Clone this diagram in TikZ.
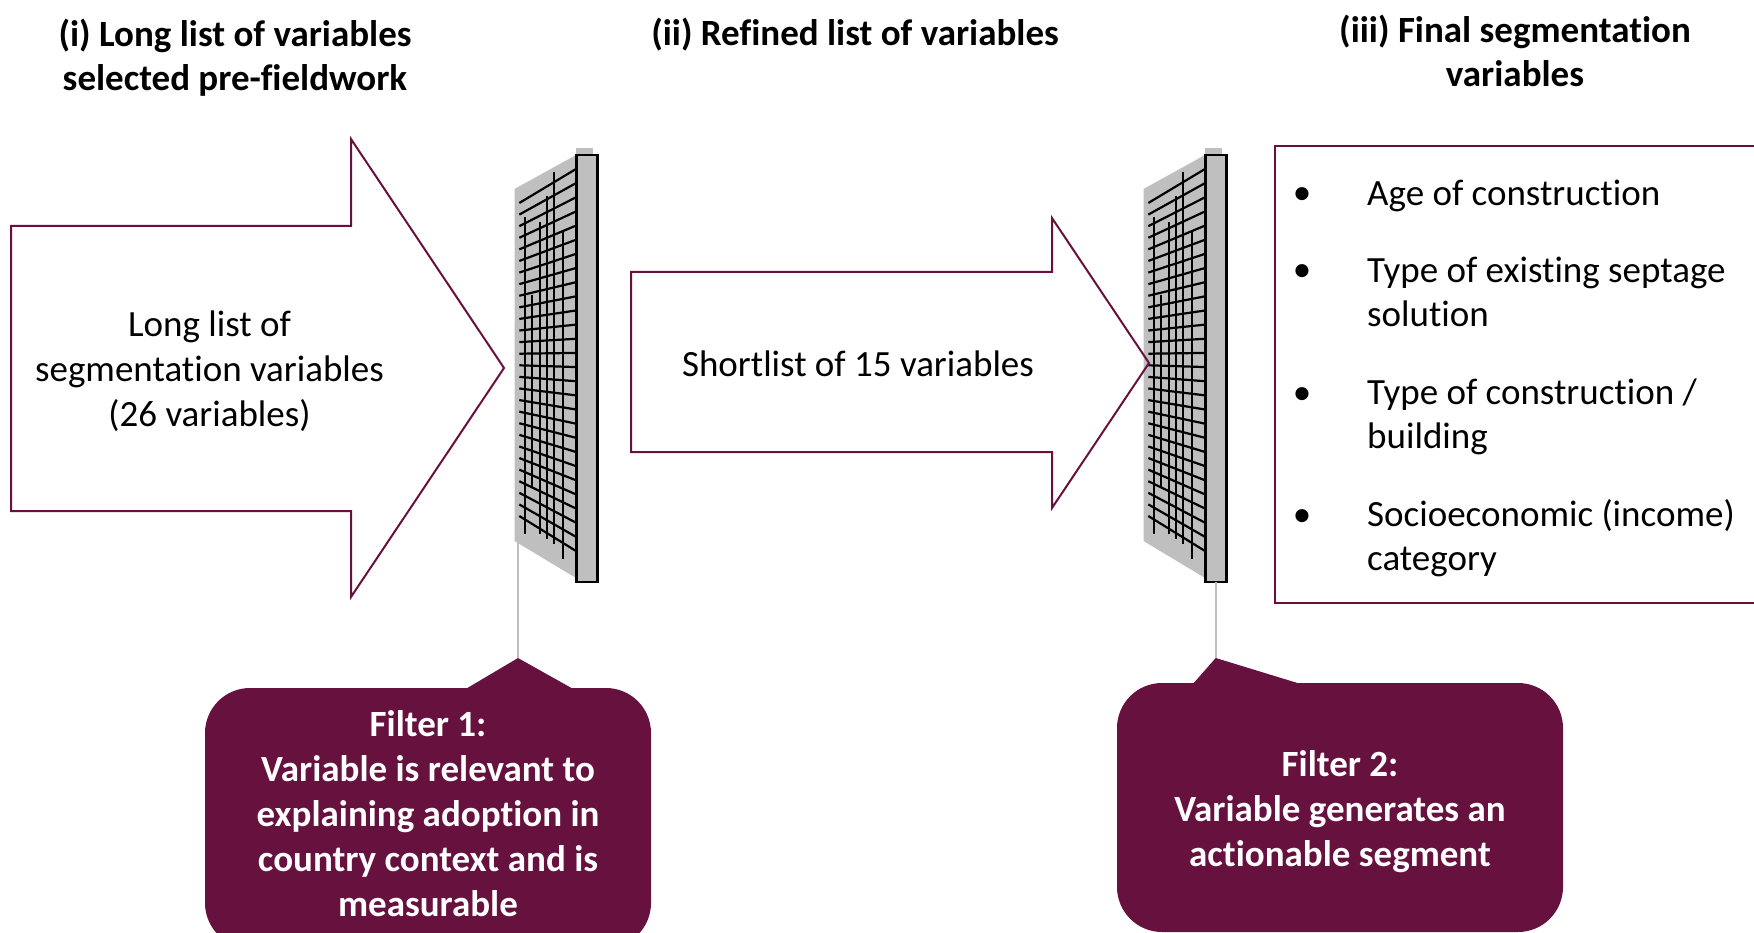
\documentclass[tikz,border=0pt]{standalone}
\usepackage{fontspec}
\setmainfont{Carlito}[Ligatures=NoCommon]
\definecolor{wine}{RGB}{103,17,62}
\definecolor{panelgray}{RGB}{191,191,191}
\definecolor{linegray}{RGB}{190,190,190}
\begin{document}
\begin{tikzpicture}[x=1pt,y=-1pt,
  txt/.style={inner sep=0pt, font=\fontsize{37}{44}\selectfont, execute at begin node=\strut, execute at end node=\strut},
  widetxt/.style={inner sep=0pt, font=\fontsize{37}{45}\selectfont, execute at begin node=\strut, execute at end node=\strut},
  title/.style={txt, font=\fontsize{37}{44}\selectfont\bfseries, align=center},
  arrowline/.style={draw=wine, line width=2pt, line join=miter},
  boxline/.style={draw=wine, line width=2pt},
  meshline/.style={draw=black, line width=2.2pt},
  framebox/.style={draw=black, fill=panelgray, line width=2.6pt},
  grayline/.style={draw=linegray, line width=2pt},
  calloutbox/.style={fill=wine, rounded corners=45pt, inner sep=0pt},
  callouttext/.style={text=white, inner sep=0pt,
    font=\fontsize{37}{45}\selectfont\bfseries, align=center,
    execute at begin node=\strut, execute at end node=\strut},
  filterpic/.pic={
    \fill[panelgray] (514.5,189) -- (576,155) -- (576,578) -- (514.5,541) -- cycle;
    \fill[panelgray] (576,148.5) rectangle (593,156);
    \foreach \i in {0,...,27}{
      \draw[meshline] (519.3,{203+\i*313/27}) -- (576,{169+\i*382/27});
    }
    \foreach \vx/\va/\vb in {525/217.5/533.6, 531.7/295/487, 540/222/534, 546.7/196/539, 554/172/544, 562.7/232/559}{
      \draw[meshline] (\vx,\va) -- (\vx,\vb);
    }
    \draw[framebox] (576.2,155) rectangle (597.2,582);
    \coordinate (-left) at (518,541);
    \coordinate (-bottom) at (586.7,582);
  }
]
\useasboundingbox (0,0) rectangle (1754,933);
\clip (0,0) rectangle (1754,933);

% titles
\node[title] (t1) at (235,60.9) {(i) Long list of variables\\selected pre-fieldwork};
\node[title, anchor=base] (t2) at (855,46) {(ii) Refined list of variables};
\node[title] (t3) at (1515,57.5) {(iii) Final segmentation\\variables};

% filters
\pic (f1) at (0,0) {filterpic};
\pic (f2) at (629,0) {filterpic};

% arrows
\draw[arrowline] (11,226) -- (351,226) -- (351,139) -- (504,368) -- (351,597) -- (351,511) -- (11,511) -- cycle;
\draw[arrowline] (631,272) -- (1052,272) -- (1052,218) -- (1149,363) -- (1052,508) -- (1052,452) -- (631,452) -- cycle;
\node[widetxt, align=center] (a1) at (209.5,375.2) {Long list of\\segmentation variables\\(26 variables)};
\node[txt, anchor=base] (a2) at (858,376) {Shortlist of 15 variables};

% final list box
\draw[boxline] (1275,146) rectangle (1775,603);
\node[txt, anchor=base] (b1) at (1302,205) {•};
\node[txt, anchor=base] (b2) at (1302,282) {•};
\node[txt, anchor=base] (b3) at (1302,404) {•};
\node[txt, anchor=base] (b4) at (1302,526) {•};
\node[txt, align=left, anchor=north west] (i1) at (1367,174.2) {Age of construction};
\node[txt, align=left, anchor=north west] (i2) at (1367,256.7) {Type of existing septage\\solution};
\node[txt, align=left, anchor=north west] (i3) at (1367,378.7) {Type of construction /\\building};
\node[txt, align=left, anchor=north west] (i4) at (1367,499.7) {Socioeconomic (income)\\category};

% callouts
\coordinate (c1tip) at (518,658);
\coordinate (c2tip) at (1215.7,658);
\fill[wine] (464,690) -- (c1tip) -- (575,690) -- cycle;
\fill[wine] (1192,685) -- (c2tip) -- (1304,685) -- cycle;
\node[calloutbox, minimum width=446pt, minimum height=260pt] (c1box) at (428,818) {};
\node[calloutbox, minimum width=446pt, minimum height=249pt] (c2box) at (1340,807.5) {};
\node[callouttext] (c1) at (c1box.center) [yshift=-2pt]
  {Filter 1:\\Variable is relevant to\\explaining adoption in\\country context and is\\measurable};
\node[callouttext] (c2) at (c2box.center) [yshift=-7.5pt]
  {Filter 2:\\Variable generates an\\actionable segment};

% connectors
\draw[grayline] (f1-left) -- (c1tip);
\draw[grayline] (f2-bottom) -- (c2tip);
\end{tikzpicture}
\end{document}
